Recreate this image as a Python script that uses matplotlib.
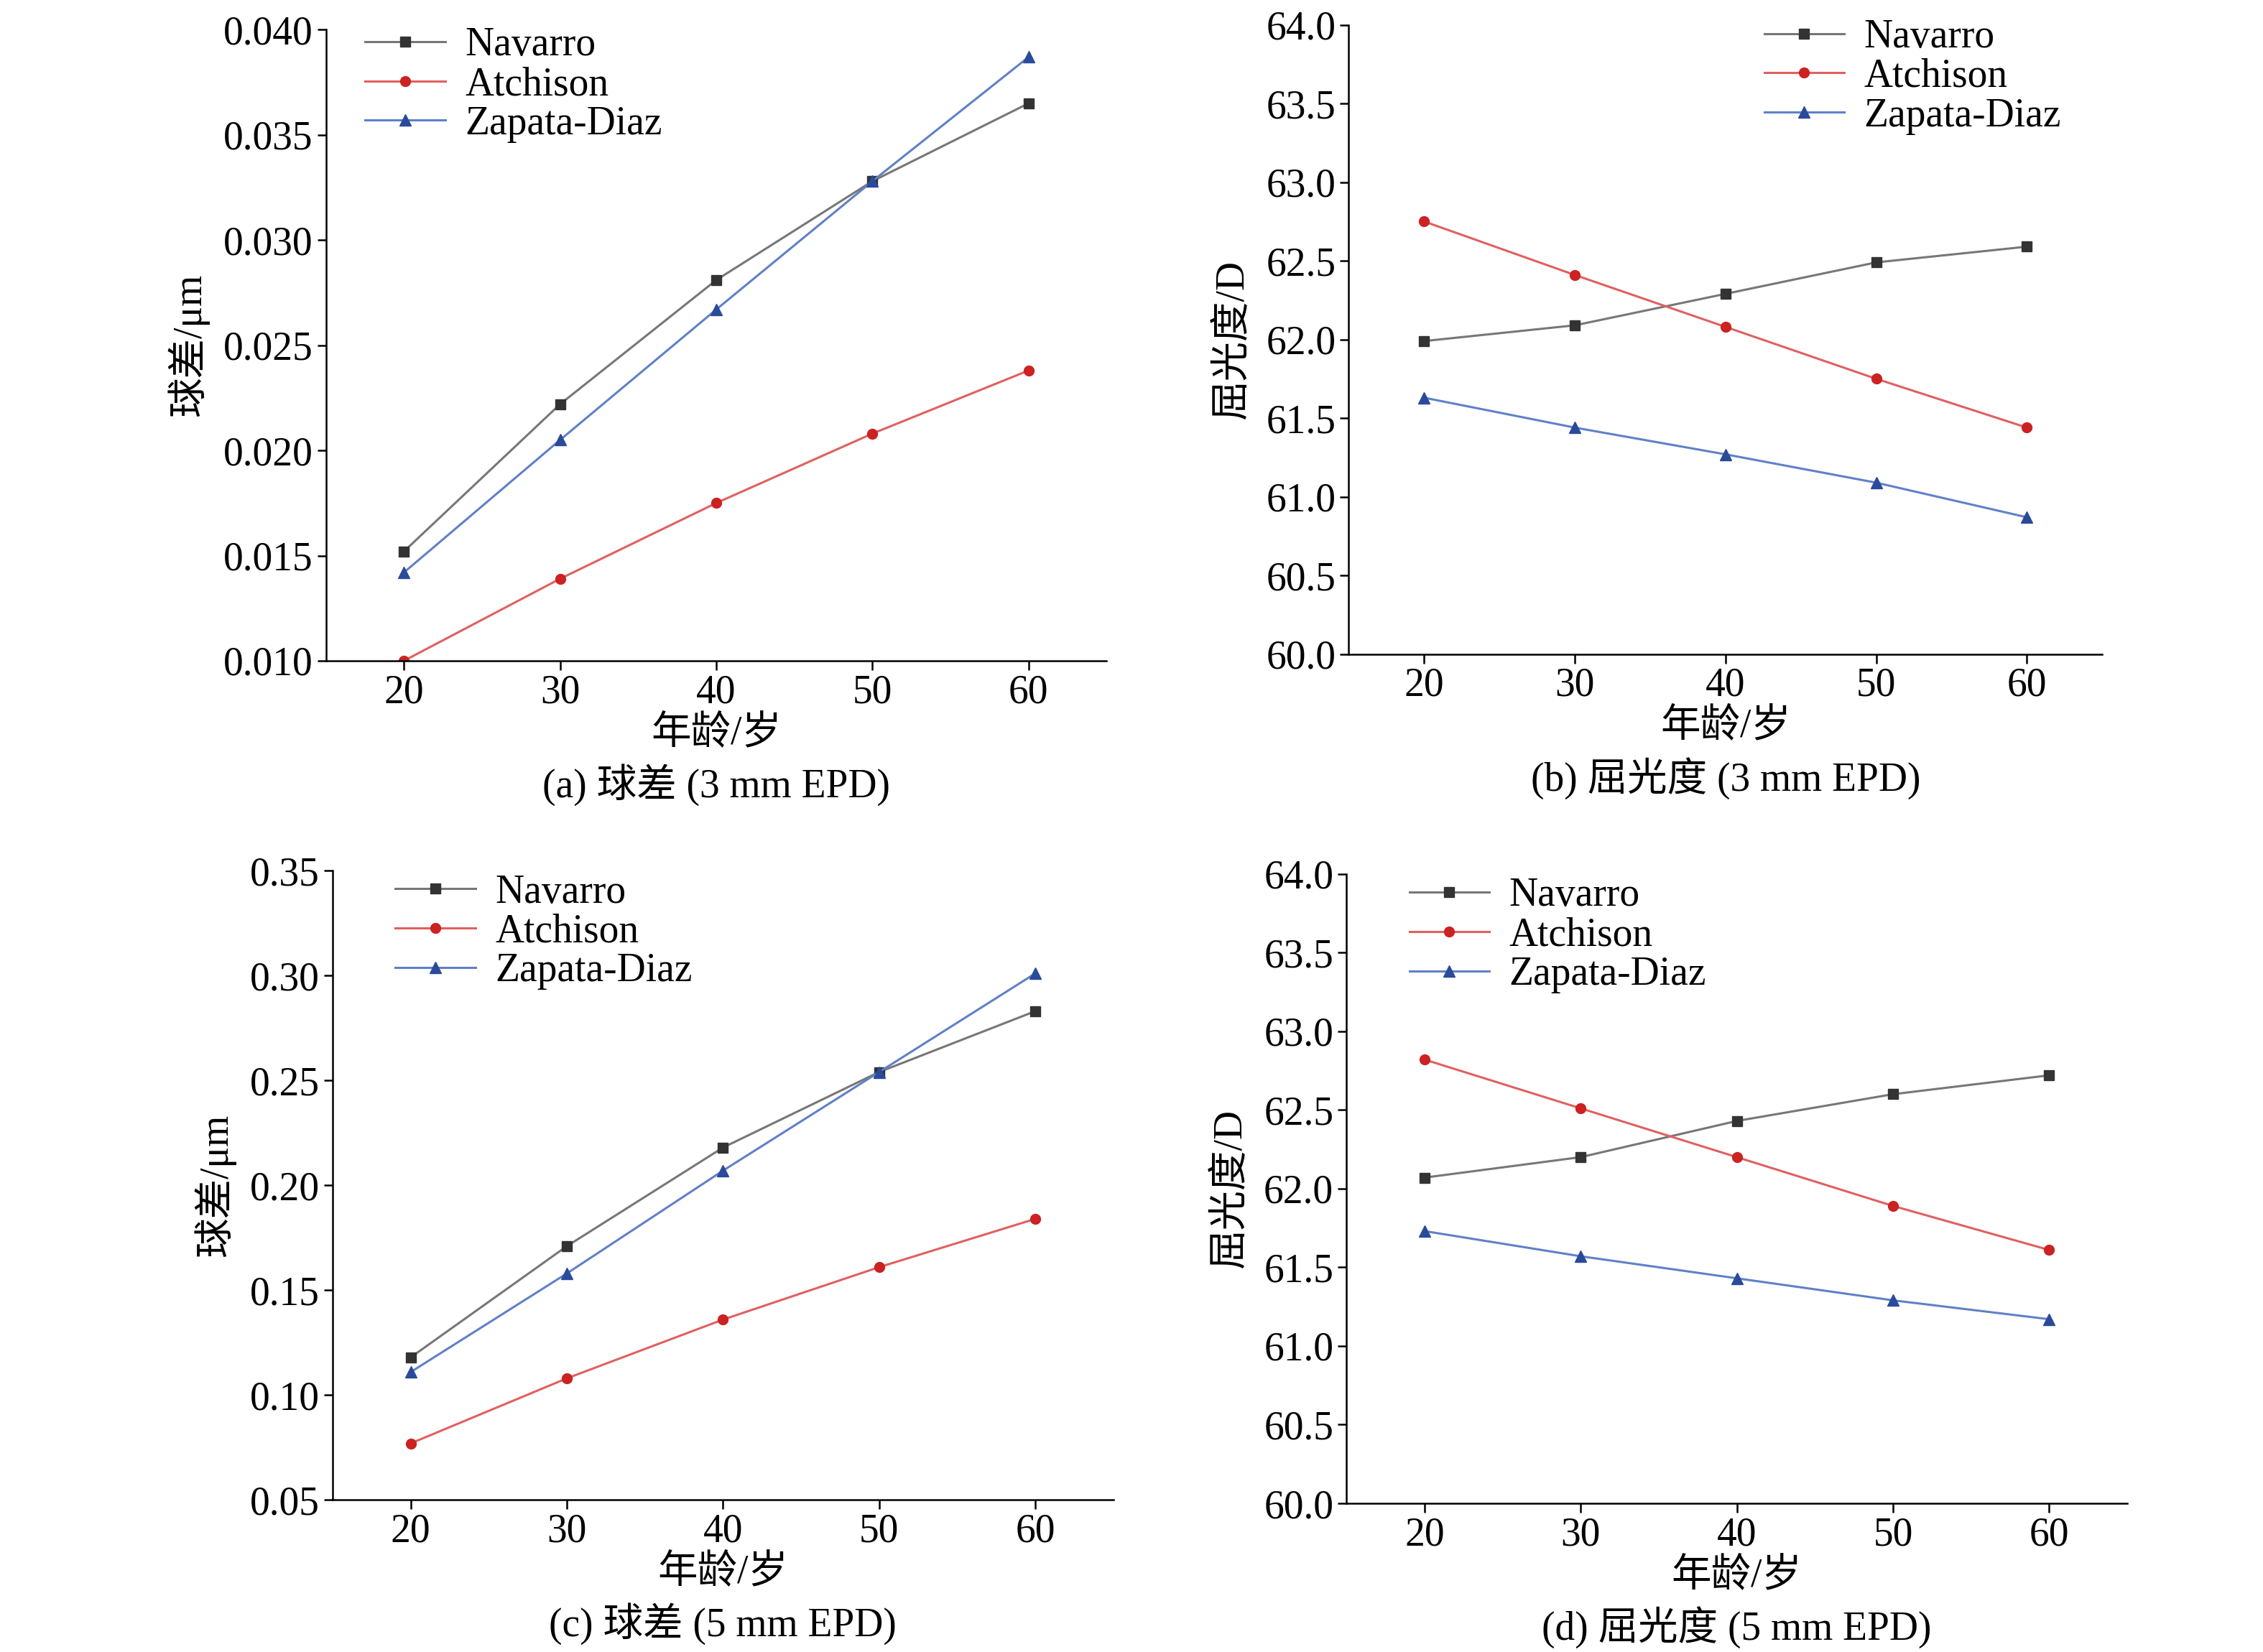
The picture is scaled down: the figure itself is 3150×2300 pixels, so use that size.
import matplotlib
matplotlib.use("Agg")
import matplotlib.pyplot as plt

plt.rcParams['font.family'] = ['Liberation Serif', 'Noto Sans CJK SC']
plt.rcParams['axes.unicode_minus'] = False

ages = [20, 30, 40, 50, 60]

# (a) spherical aberration 3 mm
sa3_navarro = [0.0152, 0.0222, 0.0281, 0.0328, 0.0365]
sa3_atchison = [0.0100, 0.0139, 0.0175, 0.0208, 0.0238]
sa3_zapata = [0.0142, 0.0205, 0.0267, 0.0328, 0.0387]
# (b) refractive power 3 mm
rp3_navarro = [61.99, 62.09, 62.29, 62.49, 62.59]
rp3_atchison = [62.75, 62.41, 62.08, 61.75, 61.44]
rp3_zapata = [61.63, 61.44, 61.27, 61.09, 60.87]
# (c) spherical aberration 5 mm
sa5_navarro = [0.118, 0.171, 0.218, 0.254, 0.283]
sa5_atchison = [0.077, 0.108, 0.136, 0.161, 0.184]
sa5_zapata = [0.111, 0.158, 0.207, 0.254, 0.301]
# (d) refractive power 5 mm
rp5_navarro = [62.07, 62.20, 62.43, 62.60, 62.72]
rp5_atchison = [62.82, 62.51, 62.20, 61.89, 61.61]
rp5_zapata = [61.73, 61.57, 61.43, 61.29, 61.17]

fig = plt.figure(figsize=(31.5, 23), dpi=100)

panels = [
    ([0.144, 0.600, 0.345, 0.382], sa3_navarro, sa3_atchison, sa3_zapata,
     (0.010, 0.040), 0.005, '%.3f', '球差/μm', '(a) 球差 (3 mm EPD)', (0.03, 1.03)),
    ([0.596, 0.604, 0.333, 0.381], rp3_navarro, rp3_atchison, rp3_zapata,
     (60.0, 64.0), 0.5, '%.1f', '屈光度/D', '(b) 屈光度 (3 mm EPD)', (0.53, 1.035)),
    ([0.147, 0.092, 0.345, 0.381], sa5_navarro, sa5_atchison, sa5_zapata,
     (0.05, 0.35), 0.05, '%.2f', '球差/μm', '(c) 球差 (5 mm EPD)', (0.06, 1.02)),
    ([0.595, 0.090, 0.345, 0.381], rp5_navarro, rp5_atchison, rp5_zapata,
     (60.0, 64.0), 0.5, '%.1f', '屈光度/D', '(d) 屈光度 (5 mm EPD)', (0.06, 1.02)),
]

fs = 40
for rect, nav, atc, zap, ylim, step, fmt, ylab, cap, legpos in panels:
    ax = fig.add_axes(rect)
    ax.plot(ages, nav, color='#777777', lw=2.2, marker='s', ms=10,
            mfc='#333333', mec='#333333', label='Navarro')
    ax.plot(ages, atc, color='#e06060', lw=2.2, marker='o', ms=10,
            mfc='#cc2222', mec='#cc2222', label='Atchison')
    ax.plot(ages, zap, color='#6080c8', lw=2.2, marker='^', ms=11,
            mfc='#2a4a9a', mec='#2a4a9a', label='Zapata-Diaz')
    ax.set_xlim(15, 65)
    ax.set_ylim(*ylim)
    ax.set_xticks(ages)
    n = int(round((ylim[1] - ylim[0]) / step))
    ax.set_yticks([ylim[0] + i * step for i in range(n + 1)])
    ax.yaxis.set_major_formatter(matplotlib.ticker.FormatStrFormatter(fmt))
    for s in ['top', 'right']:
        ax.spines[s].set_visible(False)
    for s in ['left', 'bottom']:
        ax.spines[s].set_linewidth(1.8)
    ax.tick_params(labelsize=fs, width=1.8, length=9, direction='out', pad=4)
    ax.set_ylabel(ylab, fontsize=fs, labelpad=14)
    ax.text(0.5, -0.115, '年龄/岁', transform=ax.transAxes, ha='center',
            va='center', fontsize=fs)
    ax.text(0.5, -0.197, cap, transform=ax.transAxes, ha='center',
            va='center', fontsize=fs)
    ax.legend(loc='upper left', bbox_to_anchor=legpos, frameon=False,
              fontsize=fs, handlelength=2.0, labelspacing=0.05,
              handletextpad=0.5, borderaxespad=0)

fig.savefig('out.png', dpi=100)
